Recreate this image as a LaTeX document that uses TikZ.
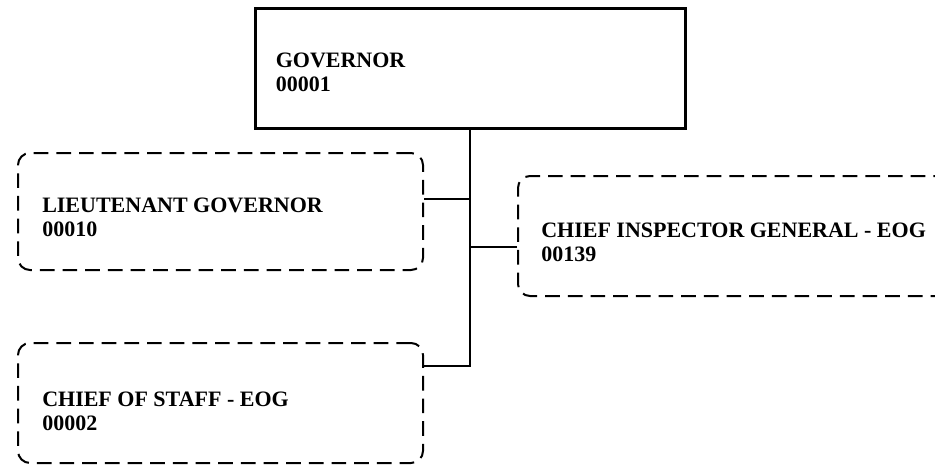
\documentclass[tikz,border=0pt]{standalone}
\usepackage{fontspec}
\setmainfont{Liberation Serif}
\usetikzlibrary{calc}

\tikzset{
  headbox/.style={draw=black, line width=2.25pt, rectangle, inner sep=0pt},
  unitbox/.style={draw=black, line width=1.5pt, rectangle, rounded corners=9pt,
    dash pattern=on 11pt off 6pt, inner sep=0pt},
  unitlabel/.style={anchor=west, align=left, font=\fontsize{16.5}{18}\selectfont\bfseries,
    inner sep=0pt},
  link/.style={draw=black, line width=1.1pt}
}

\begin{document}
\begin{tikzpicture}[x=0.75pt, y=-0.75pt]
  \useasboundingbox (0,0) rectangle (935,465);

  % boxes
  \node[headbox, minimum width=322.5pt, minimum height=90pt] (gov) at (470,68) {};
  \node[unitbox, minimum width=303.75pt, minimum height=87.75pt] (lt) at (220.5,211.5) {};
  \node[unitbox, minimum width=331.5pt, minimum height=90pt] (cig) at (739,236) {};
  \node[unitbox, minimum width=303.75pt, minimum height=90pt] (cos) at (220.5,403) {};

  % labels
  \node[unitlabel] (govt) at ($(gov.west)+(22,4)$) {GOVERNOR\\00001};
  \node[unitlabel] (ltt) at ($(lt.west)+(25,6)$) {LIEUTENANT GOVERNOR\\00010};
  \node[unitlabel] (cigt) at ($(cig.west)+(24,6)$) {CHIEF INSPECTOR GENERAL - EOG\\00139};
  \node[unitlabel] (cost) at ($(cos.west)+(25,8)$) {CHIEF OF STAFF - EOG\\00002};

  % junction points on the unit boxes
  \coordinate (ltj) at ($(lt.north east)+(0,47)$);
  \coordinate (cigj) at ($(cig.north west)+(0,72)$);
  \coordinate (cosj) at ($(cos.north east)+(0,24)$);

  % connectors
  \draw[link] (gov.south) -- (gov.south |- cosj) -- (cosj);
  \draw[link] (ltj) -- (ltj -| gov.south);
  \draw[link] (cigj) -- (cigj -| gov.south);
\end{tikzpicture}
\end{document}
